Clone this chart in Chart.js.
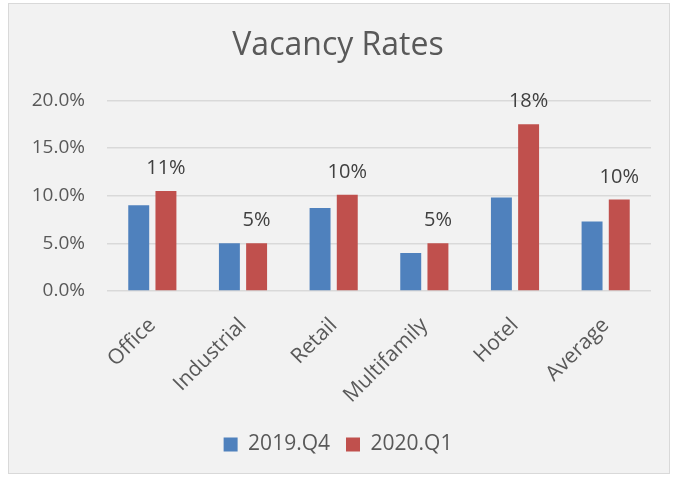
<!DOCTYPE html>
<html>
<head>
<meta charset="utf-8">
<script src="https://cdn.jsdelivr.net/npm/chart.js@4/dist/chart.umd.min.js"></script>
<style>
  html, body { margin: 0; padding: 0; background: #ffffff; }
  #box { position: absolute; left: 8px; top: 3px; width: 660px; height: 469px;
         background: #F2F2F2; border: 1px solid #D9D9D9; }
  #c { display: block; }
</style>
</head>
<body>
<div id="box"><canvas id="c" width="660" height="469"></canvas></div>
<script>
const categories = ['Office', 'Industrial', 'Retail', 'Multifamily', 'Hotel', 'Average'];
const series2019Q4 = [9.0, 5.0, 8.7, 4.0, 9.8, 7.3];
const series2020Q1 = [10.5, 5.0, 10.1, 5.0, 17.5, 9.6];
const seriesNames = ['2019.Q4', '2020.Q1'];
const yTicks = [0, 5, 10, 15, 20];

const FONT = "'Open Sans', 'Liberation Sans', sans-serif";

const dataLabels = {
  id: 'dataLabels',
  afterDatasetsDraw(chart) {
    const ctx = chart.ctx;
    const meta = chart.getDatasetMeta(1);
    ctx.save();
    ctx.font = '20px ' + FONT;
    ctx.fillStyle = '#404040';
    ctx.textAlign = 'center';
    ctx.textBaseline = 'alphabetic';
    meta.data.forEach((bar, i) => {
      const v = chart.data.datasets[1].data[i];
      ctx.fillText(Math.round(v) + '%', bar.x, bar.y - 17);
    });
    ctx.restore();
  }
};

new Chart(document.getElementById('c'), {
  type: 'bar',
  data: {
    labels: categories,
    datasets: [
      { label: seriesNames[0], data: series2019Q4, backgroundColor: '#4F81BD',
        categoryPercentage: 0.6, barPercentage: 0.77 },
      { label: seriesNames[1], data: series2020Q1, backgroundColor: '#C0504D',
        categoryPercentage: 0.6, barPercentage: 0.77 }
    ]
  },
  options: {
    responsive: false,
    animation: false,
    layout: { padding: { left: 16, right: 18, top: 0, bottom: 8 } },
    plugins: {
      title: {
        display: true, text: 'Vacancy Rates', color: '#595959',
        font: { family: FONT, size: 32, weight: 'normal' },
        padding: { top: 23, bottom: 35 }
      },
      legend: {
        position: 'bottom',
        labels: {
          color: '#595959', boxWidth: 14, boxHeight: 14, padding: 16,
          font: { family: FONT, size: 21 }
        }
      },
      tooltip: { enabled: false }
    },
    scales: {
      x: {
        grid: { display: false },
        border: { display: false },
        ticks: {
          color: '#595959', font: { family: FONT, size: 21 },
          minRotation: 45, maxRotation: 45, padding: 14
        },
        afterFit(scale) { scale.height = 127; }
      },
      y: {
        min: 0, max: 20,
        afterBuildTicks(scale) { scale.ticks = yTicks.map(v => ({ value: v })); },
        grid: { color: '#D9D9D9', lineWidth: 1.5, drawTicks: false },
        border: { display: false },
        ticks: {
          color: '#595959', font: { family: FONT, size: 19 }, padding: 22,
          callback: v => v.toFixed(1) + '%'
        },
        afterFit(scale) { scale.width = 82; }
      }
    }
  },
  plugins: [dataLabels]
});
</script>
</body>
</html>
